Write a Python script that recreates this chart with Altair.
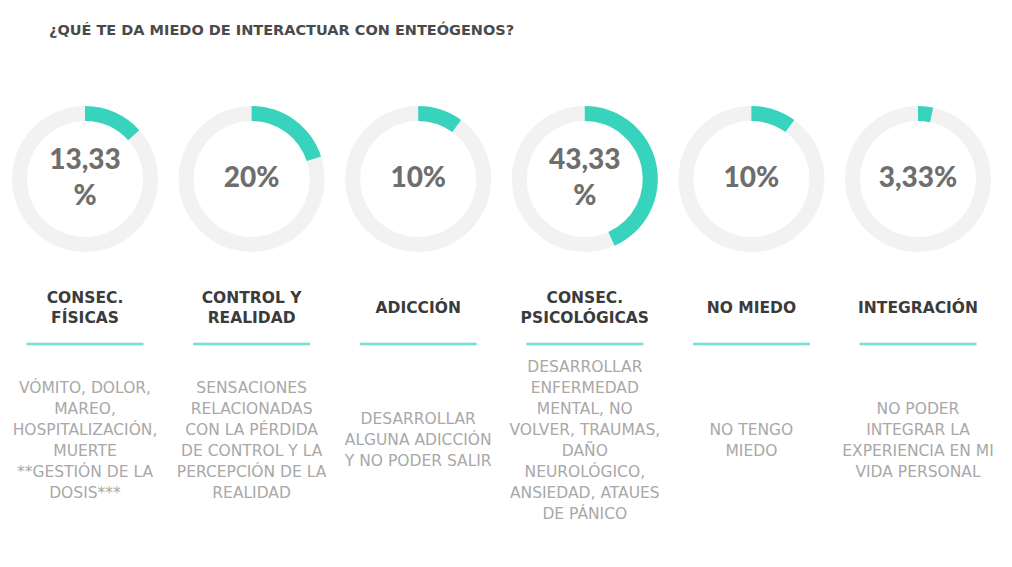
import math
import altair as alt
import pandas as pd

# ---- data ----
title_text = "¿QUÉ TE DA MIEDO DE INTERACTUAR CON ENTEÓGENOS?"
categories = [
    "CONSEC.\nFÍSICAS",
    "CONTROL Y\nREALIDAD",
    "ADICCIÓN",
    "CONSEC.\nPSICOLÓGICAS",
    "NO MIEDO",
    "INTEGRACIÓN",
]
percentages = [13.33, 20, 10, 43.33, 10, 3.33]
pct_labels = ["13,33\n%", "20%", "10%", "43,33\n%", "10%", "3,33%"]
descriptions = [
    "VÓMITO, DOLOR,\nMAREO,\nHOSPITALIZACIÓN,\nMUERTE\n**GESTIÓN DE LA\nDOSIS***",
    "SENSACIONES\nRELACIONADAS\nCON LA PÉRDIDA\nDE CONTROL Y LA\nPERCEPCIÓN DE LA\nREALIDAD",
    "DESARROLLAR\nALGUNA ADICCIÓN\nY NO PODER SALIR",
    "DESARROLLAR\nENFERMEDAD\nMENTAL, NO\nVOLVER, TRAUMAS,\nDAÑO\nNEUROLÓGICO,\nANSIEDAD, ATAUES\nDE PÁNICO",
    "NO TENGO\nMIEDO",
    "NO PODER\nINTEGRAR LA\nEXPERIENCIA EN MI\nVIDA PERSONAL",
]

df = pd.DataFrame({
    "cat": categories,
    "pct": percentages,
    "pct_label": pct_labels,
    "desc": descriptions,
})

# ---- layout / style ----
TEAL = "#38d3bd"
RING = "#f2f2f2"
CY = 171          # donut centre (px)
LABEL_CY = 300    # centre of category label block
DESC_CY = 432     # centre of description block
PCT_LH, LABEL_LH, DESC_LH = 36, 20, 21


def centred(field, cy, lh):
    # y of the first line so that a multi-line block is centred on cy
    return f"{cy} - (length(split(datum.{field}, '\\n')) - 1) * {lh} / 2"


base = alt.Chart(df).transform_calculate(
    t0="0",
    t1="datum.pct / 100 * 2 * PI",
    y_pct=centred("pct_label", CY, PCT_LH),
    y_lab=centred("cat", LABEL_CY, LABEL_LH),
    y_desc=centred("desc", DESC_CY, DESC_LH),
)
x_enc = alt.X("cat:N", sort=categories,
              scale=alt.Scale(type="point", range=[77, 910], padding=0),
              axis=None)

ring = base.mark_arc(radius=73, radius2=58, theta=0, theta2=2 * math.pi,
                     color=RING).encode(x=x_enc, y=alt.value(CY))

arc = base.mark_arc(radius=73, radius2=58, color=TEAL).encode(
    x=x_enc, y=alt.value(CY),
    theta=alt.Theta("t0:Q", scale=None, stack=None),
    theta2="t1:Q",
)

pct_text = base.mark_text(
    font="Lato", fontSize=28, fontWeight=900, color="#6e6e6e",
    lineBreak="\n", lineHeight=PCT_LH, baseline="middle", align="center",
).encode(x=x_enc, y=alt.Y("y_pct:Q", scale=None, axis=None), text="pct_label:N")

labels = base.mark_text(
    font="DejaVu Sans", fontSize=15.5, fontWeight="bold", color="#3b3b3b",
    lineBreak="\n", lineHeight=LABEL_LH, baseline="middle", align="center",
).encode(x=x_enc, y=alt.Y("y_lab:Q", scale=None, axis=None), text="cat:N")

lines = base.mark_tick(orient="horizontal", thickness=2.5, color=TEAL).encode(
    x=x_enc, y=alt.value(336), size=alt.value(117)
)

desc = base.mark_text(
    font="DejaVu Sans", fontSize=15.5, color="#a8a8a8",
    lineBreak="\n", lineHeight=DESC_LH, baseline="middle", align="center",
).encode(x=x_enc, y=alt.Y("y_desc:Q", scale=None, axis=None), text="desc:N")

title = alt.Chart(pd.DataFrame({"t": [title_text]})).mark_text(
    font="DejaVu Sans", fontSize=14.5, fontWeight="bold", color="#4a4a4a",
    align="left", baseline="alphabetic",
).encode(x=alt.value(41), y=alt.value(27), text="t:N")

chart = alt.layer(ring, arc, pct_text, labels, lines, desc, title).properties(
    width=996, height=551, padding=0
).configure_view(stroke=None)

chart.save("out.html", embed_options={"renderer": "svg", "actions": False})
